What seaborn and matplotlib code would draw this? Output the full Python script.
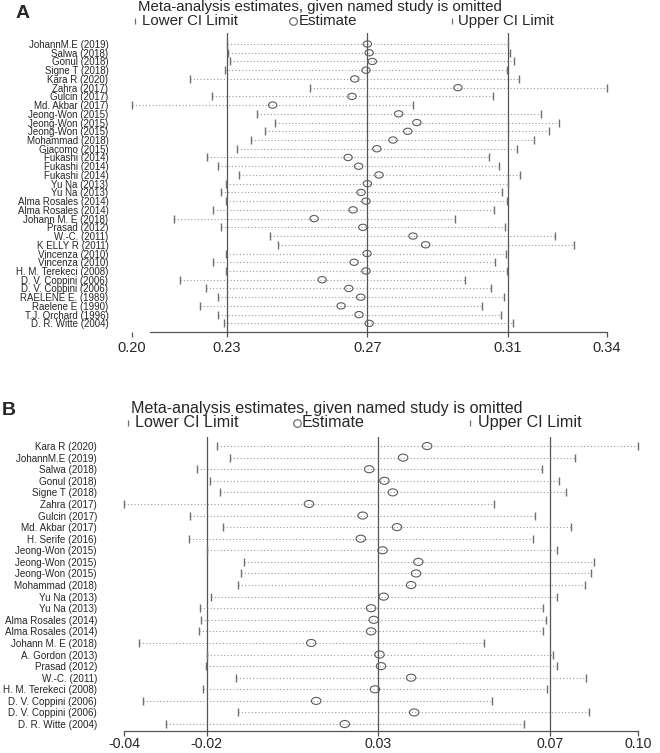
import matplotlib.pyplot as plt
import seaborn as sns
from matplotlib.lines import Line2D
from matplotlib.path import Path
from matplotlib.transforms import Affine2D

# ---- panel A data ----
studies_a = [
    "JohannM.E (2019)", "Salwa (2018)", "Gonul (2018)", "Signe T (2018)",
    "Kara R (2020)", "Zahra (2017)", "Gulcin (2017)", "Md. Akbar (2017)",
    "Jeong-Won (2015)", "Jeong-Won (2015)", "Jeong-Won (2015)",
    "Mohammad (2018)", "Giacomo (2015)", "Fukashi (2014)", "Fukashi (2014)",
    "Fukashi (2014)", "Yu Na (2013)", "Yu Na (2013)", "Alma Rosales (2014)",
    "Alma Rosales (2014)", "Johann M. E (2018)", "Prasad (2012)",
    "W.-C. (2011)", "K ELLY R (2011)", "Vincenza (2010)", "Vincenza (2010)",
    "H. M. Terekeci (2008)", "D. V. Coppini (2006)", "D. V. Coppini (2006)",
    "RAELENE E. (1989)", "Raelene E (1990)", "T.J. Orchard (1996)",
    "D. R. Witte (2004)",
]
lower_a = [0.2300, 0.2303, 0.2309, 0.2294, 0.2195, 0.2535, 0.2256, 0.2029,
           0.2384, 0.2436, 0.2409, 0.2369, 0.2328, 0.2244, 0.2274, 0.2333,
           0.2298, 0.2282, 0.2296, 0.2259, 0.2148, 0.2282, 0.2423, 0.2446,
           0.2296, 0.2259, 0.2296, 0.2165, 0.2241, 0.2273, 0.2223, 0.2273,
           0.2290]
est_a = [0.2700, 0.2705, 0.2714, 0.2696, 0.2664, 0.2958, 0.2656, 0.2430,
         0.2789, 0.2841, 0.2815, 0.2773, 0.2727, 0.2645, 0.2675, 0.2733,
         0.2700, 0.2682, 0.2696, 0.2659, 0.2548, 0.2687, 0.2830, 0.2866,
         0.2699, 0.2662, 0.2696, 0.2571, 0.2647, 0.2681, 0.2625, 0.2676,
         0.2705]
upper_a = [0.3101, 0.3107, 0.3117, 0.3097, 0.3132, 0.3383, 0.3058, 0.2831,
           0.3195, 0.3247, 0.3219, 0.3175, 0.3127, 0.3046, 0.3075, 0.3134,
           0.3101, 0.3083, 0.3097, 0.3060, 0.2950, 0.3093, 0.3234, 0.3288,
           0.3096, 0.3064, 0.3097, 0.2977, 0.3052, 0.3088, 0.3028, 0.3080,
           0.3116]
overall_a = [0.2300, 0.2700, 0.3100]

# ---- panel B data ----
studies_b = [
    "Kara R (2020)", "JohannM.E (2019)", "Salwa (2018)", "Gonul (2018)",
    "Signe T (2018)", "Zahra (2017)", "Gulcin (2017)", "Md. Akbar (2017)",
    "H. Serife (2016)", "Jeong-Won (2015)", "Jeong-Won (2015)",
    "Jeong-Won (2015)", "Mohammad (2018)", "Yu Na (2013)", "Yu Na (2013)",
    "Alma Rosales (2014)", "Alma Rosales (2014)", "Johann M. E (2018)",
    "A. Gordon (2013)", "Prasad (2012)", "W.-C. (2011)",
    "H. M. Terekeci (2008)", "D. V. Coppini (2006)", "D. V. Coppini (2006)",
    "D. R. Witte (2004)",
]
lower_b = [-0.0142, -0.0108, -0.0195, -0.0161, -0.0136, -0.0387, -0.0214,
           -0.0128, -0.0216, -0.0170, -0.0071, -0.0079, -0.0088, -0.0159,
           -0.0188, -0.0185, -0.0189, -0.0348, -0.0170, -0.0171, -0.0093,
           -0.0180, -0.0338, -0.0087, -0.0276]
est_b = [0.0408, 0.0345, 0.0256, 0.0296, 0.0318, 0.0098, 0.0239, 0.0329,
         0.0234, 0.0291, 0.0385, 0.0379, 0.0366, 0.0294, 0.0261, 0.0268,
         0.0261, 0.0104, 0.0283, 0.0287, 0.0366, 0.0271, 0.0117, 0.0374,
         0.0192]
upper_b = [0.0961, 0.0797, 0.0709, 0.0753, 0.0772, 0.0584, 0.0692, 0.0784,
           0.0685, 0.0749, 0.0845, 0.0837, 0.0821, 0.0748, 0.0713, 0.0719,
           0.0713, 0.0557, 0.0737, 0.0748, 0.0824, 0.0723, 0.0579, 0.0833,
           0.0662]
overall_b = [-0.0170, 0.0280, 0.0730]

TITLE = "Meta-analysis estimates, given named study is omitted"

sns.set_style("white")
plt.rcParams["font.family"] = ["Liberation Sans", "DejaVu Sans"]

W, H = 660, 753
fig = plt.figure(figsize=(W / 100, H / 100), dpi=100)

LINE = "#555555"
CI = "#707070"
DOT = "#9a9a9a"
ELLIPSE = Path.unit_circle().transformed(Affine2D().scale(1.0, 0.75))


def px_axes(left, right, top, bottom):
    return fig.add_axes([left / W, 1 - bottom / H, (right - left) / W, (bottom - top) / H])


def fig_mark(x, y, marker, ms):
    fig.add_artist(Line2D([x / W], [1 - y / H], marker=marker, ms=ms, ls="none",
                          color=CI, mfc="none", mew=0.9, transform=fig.transFigure))


def header(letter, lx, ly, ty, ly2, fs, pos):
    fig.text(lx / W, 1 - ly / H, letter, fontsize=14, fontweight="bold",
             ha="center", va="center")
    fig.text(pos["title"] / W, 1 - ty / H, TITLE, fontsize=fs, ha="center", va="center")
    fig_mark(pos["lo_m"], ly2, "|", 5)
    fig.text(pos["lo_t"] / W, 1 - ly2 / H, "Lower CI Limit", fontsize=fs, va="center")
    fig_mark(pos["est_m"], ly2, "o", 5.5)
    fig.text(pos["est_t"] / W, 1 - ly2 / H, "Estimate", fontsize=fs, va="center")
    fig_mark(pos["up_m"], ly2, "|", 5)
    fig.text(pos["up_t"] / W, 1 - ly2 / H, "Upper CI Limit", fontsize=fs, va="center")


def influence_panel(ax, studies, lower, est, upper, overall, ylim, label_pad,
                    label_size, circle_s, tick_size, tick_pad,
                    spine_start=None, left_spine=False):
    rows = list(range(len(studies)))
    ax.hlines(rows, lower, upper, colors=DOT, linestyles=(0, (1, 2)), lw=0.8, zorder=1)
    for v in overall:
        ax.axvline(v, color=LINE, lw=0.9, zorder=2)
    ax.plot(lower, rows, ls="none", marker="|", ms=6, mew=1.0, color=CI,
            clip_on=False, zorder=3)
    ax.plot(upper, rows, ls="none", marker="|", ms=6, mew=1.0, color=CI,
            clip_on=False, zorder=3)
    sns.scatterplot(x=est, y=rows, ax=ax, marker=ELLIPSE, s=circle_s,
                    facecolor="none", edgecolor="#5c5c5c", linewidth=0.8,
                    clip_on=False, zorder=4)

    xmin, xmax = min(lower), max(upper)
    ax.set_xlim(xmin, xmax)
    ax.set_ylim(*ylim)
    ticks = [xmin] + list(overall) + [xmax]
    ax.set_xticks(ticks)
    ax.set_xticklabels([f"{t:.2f}" for t in ticks])
    ax.set_yticks(rows)
    ax.set_yticklabels(studies)
    ax.tick_params(axis="x", direction="out", length=3.5, width=0.9, color=LINE,
                   labelsize=tick_size, pad=tick_pad, bottom=True)
    ax.tick_params(axis="y", length=0, labelsize=label_size, pad=label_pad)
    ax.set_xlabel("")
    ax.set_ylabel("")

    for s in ["top", "right"]:
        ax.spines[s].set_visible(False)
    ax.spines["left"].set_visible(left_spine)
    ax.spines["left"].set_color(LINE)
    ax.spines["left"].set_linewidth(0.9)
    ax.spines["bottom"].set_color(LINE)
    ax.spines["bottom"].set_linewidth(0.9)
    if spine_start is not None:
        ax.spines["bottom"].set_bounds(spine_start, xmax)


# Panel A
ax_a = px_axes(132, 607, 33, 332)
influence_panel(ax_a, studies_a, lower_a, est_a, upper_a, overall_a,
                ylim=(32.99, -1.26), label_pad=17, label_size=7, circle_s=36,
                tick_size=10.5, tick_pad=3, spine_start=0.2081)
header("A", 23, 14, 7, 21, 10.8,
       dict(title=320, lo_m=135, lo_t=142, est_m=293, est_t=299, up_m=452, up_t=458))

# Panel B
ax_b = px_axes(124, 638, 437, 731)
influence_panel(ax_b, studies_b, lower_b, est_b, upper_b, overall_b,
                ylim=(24.6, -0.78), label_pad=19.5, label_size=7.1, circle_s=46,
                tick_size=10.2, tick_pad=1)
header("B", 9, 411, 408, 423, 11.6,
       dict(title=327, lo_m=128, lo_t=135, est_m=297, est_t=302, up_m=470, up_t=478))

fig.savefig("out.png", dpi=100)
